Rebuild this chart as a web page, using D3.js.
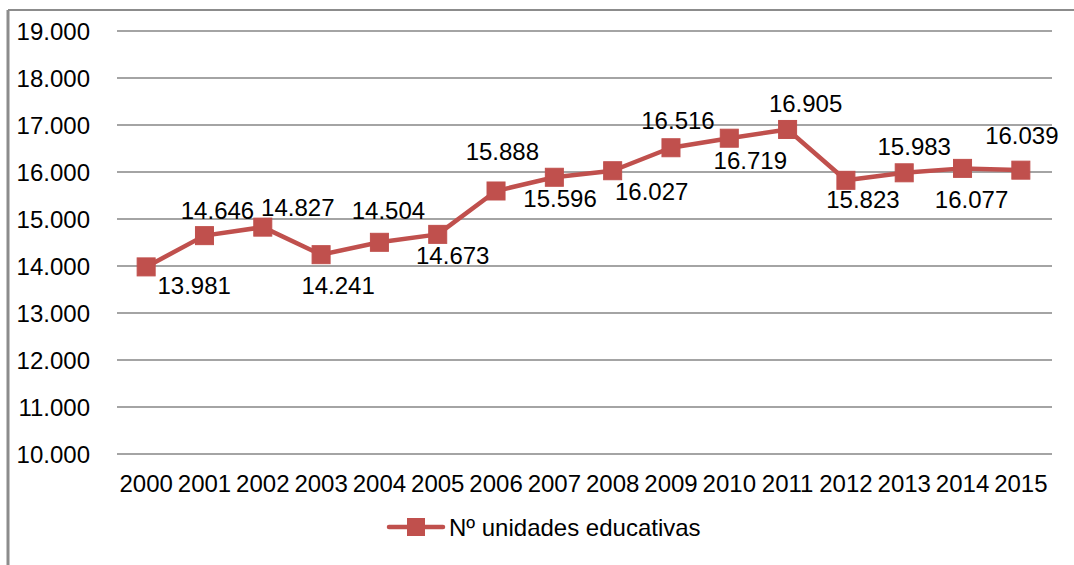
<!DOCTYPE html>
<html><head><meta charset="utf-8">
<script src="https://cdn.jsdelivr.net/npm/d3@7"></script>
<style>body{margin:0;background:#fff}svg{display:block}text{font-family:"Liberation Sans",Arial,sans-serif;fill:#000}</style>
</head><body>
<svg id="c" width="1074" height="565"></svg>
<script>
const years = ["2000","2001","2002","2003","2004","2005","2006","2007","2008","2009","2010","2011","2012","2013","2014","2015"];
const values = [13981,14646,14827,14241,14504,14673,15596,15888,16027,16516,16719,16905,15823,15983,16077,16039];
const yTicks = [10000,11000,12000,13000,14000,15000,16000,17000,18000,19000];
const seriesName = "Nº unidades educativas";
// manual label placement (dx, dy from point) as in the original
const labelOffsets = [[48,27],[13,-17],[35,-11],[17,39],[9,-23],[15,30],[64,16],[-52,-17],[39,29],[7,-19],[21,31],[18,-17],[17,28],[10,-18],[9,40],[1,-26]];

const svg = d3.select("#c");
const red = "#C0504D";
const fmt = v => d3.format(",")(v).replace(/,/g, ".");

// frame
svg.append("line").attr("x1",8).attr("x2",1074).attr("y1",10).attr("y2",10).attr("stroke","#8c8c8c").attr("stroke-width",2);
svg.append("line").attr("x1",8).attr("x2",8).attr("y1",10).attr("y2",565).attr("stroke","#8c8c8c").attr("stroke-width",3);

const x = d3.scaleBand().domain(years).range([117,1050]);
const y = d3.scaleLinear().domain([10000,19000]).range([454,31]);

// grid
svg.append("g").selectAll("line").data(yTicks).join("line")
  .attr("x1",117).attr("x2",1052).attr("y1",d=>y(d)).attr("y2",d=>y(d))
  .attr("stroke","#868686").attr("stroke-width",1.5);

const yAxis = d3.axisLeft(y).tickValues(yTicks).tickFormat(fmt).tickSize(0).tickPadding(0);
const gy = svg.append("g").attr("transform","translate(90,0)").call(yAxis);
gy.select(".domain").remove();
gy.selectAll("text").style("font-size","24px").attr("font-family",null).attr("dy","0.35em");

const xAxis = d3.axisBottom(x).tickSize(0).tickPadding(0);
const gx = svg.append("g").attr("transform","translate(0,475)").call(xAxis);
gx.select(".domain").remove();
gx.selectAll("text").style("font-size","24px").attr("font-family",null).attr("dy","0.71em");

const cx = d => x(d) + x.bandwidth()/2;
const pts = years.map((yr,i)=>({yr, v:values[i], i}));

svg.append("path").datum(pts)
  .attr("d", d3.line().x(d=>cx(d.yr)).y(d=>y(d.v)))
  .attr("fill","none").attr("stroke",red).attr("stroke-width",4.5).attr("stroke-linejoin","round");

svg.append("g").selectAll("rect").data(pts).join("rect")
  .attr("x",d=>cx(d.yr)-9).attr("y",d=>y(d.v)-9).attr("width",18).attr("height",18)
  .attr("fill",red).attr("stroke",red).attr("stroke-width",1);

svg.append("g").selectAll("text").data(pts).join("text")
  .attr("x",d=>cx(d.yr)+labelOffsets[d.i][0]).attr("y",d=>y(d.v)+labelOffsets[d.i][1])
  .attr("text-anchor","middle").style("font-size","24px").text(d=>fmt(d.v));

// legend
const lg = svg.append("g");
lg.append("line").attr("x1",389).attr("x2",443).attr("y1",527).attr("y2",527).attr("stroke",red).attr("stroke-width",4.5).attr("stroke-linecap","round");
lg.append("rect").attr("x",407).attr("y",518).attr("width",18).attr("height",18).attr("fill",red);
lg.append("text").attr("x",449).attr("y",536).style("font-size","24px").text(seriesName);
</script>
</body></html>
